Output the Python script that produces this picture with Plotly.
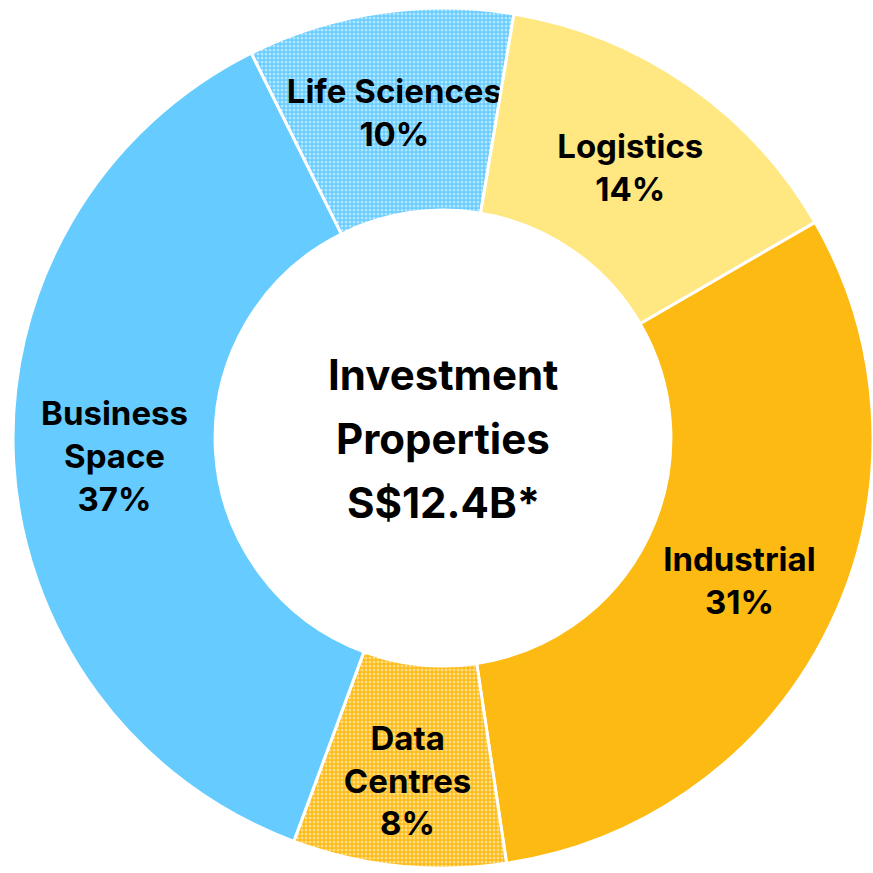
import plotly.graph_objects as go

categories = ["Life Sciences", "Logistics", "Industrial", "Data Centres", "Business Space"]
display_labels = ["Life Sciences", "Logistics", "Industrial", "Data<br>Centres", "Business<br>Space"]
shares = [10, 14, 31, 8, 37]
colors = ["#66CCFF", "#FFE781", "#FDBA13", "#FDBA13", "#66CCFF"]
pattern_shapes = [".", "", "", ".", ""]
center_lines = ["Investment", "Properties", "S$12.4B*"]

W = H = 873
cx, cy, R = 443, 438, 430

fig = go.Figure(go.Pie(
    labels=categories,
    values=shares,
    text=display_labels,
    texttemplate="<b>%{text}<br>%{value}%</b>",
    textinfo="text",
    textposition="inside",
    insidetextorientation="horizontal",
    sort=False,
    direction="clockwise",
    rotation=-26.5,
    hole=0.53,
    marker=dict(
        colors=colors,
        line=dict(color="white", width=3),
        pattern=dict(shape=pattern_shapes, fgcolor="white", size=4, solidity=0.45, fillmode="overlay"),
    ),
    textfont=dict(family="Inter", size=33, color="black"),
    domain=dict(x=[(cx - R) / W, min(1.0, (cx + R) / W)], y=[(H - cy - R) / H, (H - cy + R) / H]),
    showlegend=False,
    hoverinfo="label+percent",
))

line_gap = 64
for i, t in enumerate(center_lines):
    fig.add_annotation(
        x=cx / W, y=(H - cy) / H, xref="paper", yref="paper",
        text=f"<b>{t}</b>", showarrow=False,
        font=dict(family="Inter", size=42, color="black"),
        yshift=(1 - i) * line_gap,
    )

fig.update_layout(
    width=W, height=H,
    margin=dict(l=0, r=0, t=0, b=0),
    paper_bgcolor="white",
    plot_bgcolor="white",
    uniformtext=dict(minsize=33, mode="show"),
)

fig.write_html(
    "out.html",
    config={"displayModeBar": False},
    post_script="document.body.style.margin='0';document.body.style.overflow='hidden';",
)
